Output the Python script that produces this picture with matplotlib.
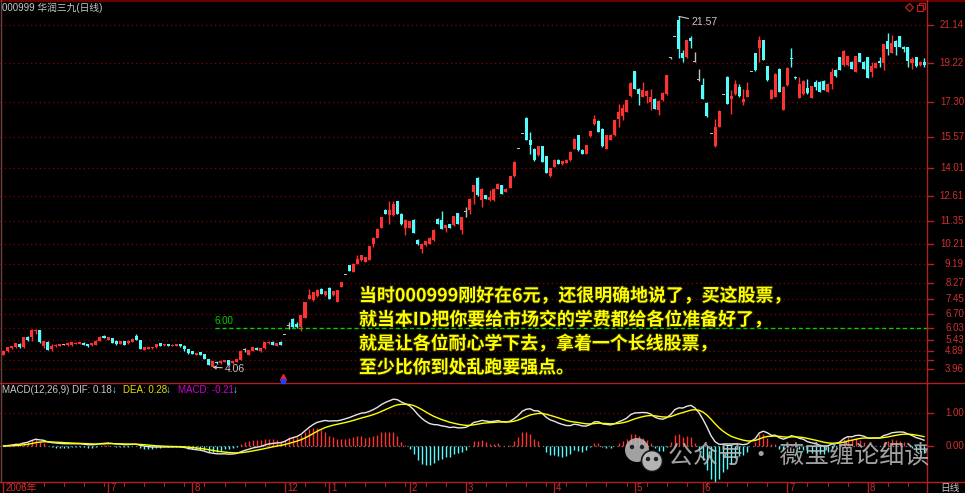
import numpy as np
import pandas as pd
import matplotlib
matplotlib.use("Agg")
import matplotlib.pyplot as plt
from matplotlib.patches import Circle
import matplotlib.patheffects as pe

plt.rcParams['font.family'] = ['Liberation Sans', 'Noto Sans CJK SC', 'DejaVu Sans']

# ==== 1) daily candles 000999 (read off the chart) ====
opens = [
    4.69, 4.86, 5.01, 5.06, 5.22, 5.06, 5.59, 5.56, 5.86, 5.92,
    5.14, 5.31, 4.97, 5.11, 5.14, 5.19, 5.16, 5.16, 5.22, 5.22,
    5.29, 5.22, 5.16, 5.19, 5.39, 5.64, 5.42, 5.52, 5.39, 5.22,
    5.36, 5.26, 5.32, 5.64, 5.42, 4.92, 4.97, 5.00, 5.06, 5.26,
    5.16, 5.22, 5.14, 5.14, 5.22, 5.14, 4.97, 4.86, 4.69, 4.80,
    4.72, 4.47, 4.09, 4.34, 4.26, 4.32, 4.42, 4.26, 4.34, 4.42,
    4.92, 4.69, 4.89, 5.04, 4.86, 5.01, 5.26, 5.34, 5.14, 5.34,
    5.69, 6.10, 6.47, 6.22, 6.06, 6.52, 7.47, 7.39, 7.59, 7.97,
    7.64, 8.02, 7.64, 7.31, 8.06, 8.64, 9.14, 8.81, 9.22, 9.39,
    9.31, 9.42, 10.19, 10.52, 11.02, 11.92, 11.64, 11.64, 12.36, 11.72,
    11.02, 11.02, 11.42, 10.42, 9.97, 10.14, 10.22, 10.39, 11.47, 11.39,
    11.02, 11.19, 11.14, 11.76, 10.89, 11.80, 11.89, 12.81, 13.52, 12.39,
    12.64, 12.39, 12.39, 12.97, 13.14, 12.81, 13.02, 13.59, 14.94, 15.69,
    16.52, 15.42, 14.97, 14.64, 15.09, 14.59, 13.59, 14.06, 14.42, 14.19,
    14.26, 14.39, 14.97, 15.64, 14.92, 14.72, 15.59, 16.19, 16.36, 15.97,
    14.97, 15.42, 15.64, 16.47, 16.60, 16.81, 17.59, 18.84, 17.97, 17.56,
    17.59, 17.31, 17.47, 16.89, 17.39, 17.69, 19.50, 20.52, 21.39, 19.76,
    19.52, 20.47, 19.30, 18.40, 18.14, 17.26, 15.72, 15.09, 16.06, 17.64,
    18.56, 17.46, 17.69, 18.06, 17.31, 17.56, 18.81, 19.72, 19.97, 20.39,
    19.09, 17.47, 17.56, 18.97, 16.92, 18.14, 19.50, 18.56, 17.52, 17.69,
    18.02, 17.52, 18.31, 18.31, 18.36, 17.81, 18.22, 18.92, 19.52, 19.14,
    19.14, 19.31, 18.81, 19.72, 19.31, 19.52, 18.81, 19.02, 19.36, 19.26,
    20.36, 19.76, 20.36, 20.59, 20.02, 20.02, 19.26, 19.52, 19.14, 19.31,
]
closes = [
    4.89, 5.06, 5.11, 5.26, 5.06, 5.56, 5.42, 5.92, 5.92, 5.31,
    5.36, 4.92, 5.14, 5.19, 5.22, 5.19, 5.29, 5.32, 5.29, 5.32,
    5.19, 5.11, 5.26, 5.39, 5.59, 5.52, 5.56, 5.29, 5.22, 5.36,
    5.19, 5.39, 5.47, 5.44, 4.99, 5.06, 5.06, 5.06, 5.22, 5.14,
    5.22, 5.14, 5.19, 5.22, 5.11, 4.97, 4.76, 4.72, 4.77, 4.69,
    4.47, 4.19, 4.36, 4.26, 4.39, 4.42, 4.19, 4.36, 4.47, 4.89,
    4.92, 4.92, 5.06, 4.94, 5.02, 5.31, 5.34, 5.17, 5.26, 5.17,
    5.69, 6.10, 6.06, 6.06, 6.64, 7.31, 7.64, 7.81, 7.89, 7.72,
    7.86, 7.47, 7.86, 7.89, 8.31, 8.64, 8.86, 9.22, 9.47, 9.64,
    9.56, 10.09, 10.52, 10.97, 11.56, 11.72, 11.89, 12.22, 11.72, 11.19,
    11.42, 11.36, 10.76, 10.19, 10.22, 10.36, 10.52, 10.92, 11.22, 10.97,
    11.14, 11.02, 11.59, 11.22, 11.56, 11.80, 12.47, 13.14, 12.64, 12.97,
    12.47, 12.56, 12.97, 13.22, 12.72, 12.97, 13.59, 14.31, 14.94, 15.69,
    15.42, 15.14, 14.39, 15.09, 14.31, 13.76, 14.00, 14.42, 14.22, 14.34,
    14.42, 14.81, 15.47, 14.89, 14.72, 15.15, 15.84, 16.47, 15.81, 15.09,
    15.64, 15.67, 16.39, 16.81, 17.00, 17.39, 18.26, 17.97, 17.69, 17.89,
    17.86, 17.56, 16.97, 17.36, 17.76, 18.64, 19.50, 20.52, 19.92, 19.47,
    20.39, 20.36, 19.30, 18.40, 17.47, 16.59, 15.72, 16.06, 16.86, 17.64,
    17.22, 17.59, 18.19, 17.59, 17.47, 17.92, 18.81, 18.89, 20.39, 19.39,
    18.39, 17.89, 18.72, 17.81, 18.06, 19.02, 19.45, 18.49, 18.19, 18.36,
    17.76, 18.09, 18.06, 17.81, 17.92, 18.22, 18.81, 18.59, 18.92, 19.86,
    19.59, 18.97, 19.59, 19.31, 18.97, 18.52, 19.09, 19.26, 19.22, 20.19,
    19.92, 20.26, 20.02, 20.06, 19.92, 19.36, 19.42, 19.09, 19.31, 19.14,
]
highs = [
    4.92, 5.09, 5.14, 5.29, 5.26, 5.58, 5.63, 5.95, 5.99, 5.94,
    5.39, 5.36, 5.22, 5.21, 5.24, 5.23, 5.31, 5.34, 5.31, 5.34,
    5.31, 5.24, 5.28, 5.41, 5.64, 5.67, 5.59, 5.54, 5.41, 5.38,
    5.38, 5.41, 5.50, 5.72, 5.44, 5.08, 5.08, 5.08, 5.24, 5.28,
    5.24, 5.24, 5.21, 5.24, 5.24, 5.16, 4.99, 4.88, 4.79, 4.82,
    4.74, 4.49, 4.38, 4.36, 4.41, 4.44, 4.44, 4.38, 4.49, 4.91,
    5.02, 4.94, 5.08, 5.06, 5.04, 5.33, 5.36, 5.36, 5.28, 5.36,
    5.69, 6.31, 6.52, 6.31, 6.66, 7.33, 7.97, 7.83, 7.97, 7.99,
    7.88, 8.04, 7.88, 7.91, 8.33, 8.64, 9.16, 9.24, 9.64, 9.66,
    9.58, 10.11, 10.54, 10.99, 11.58, 11.94, 12.36, 12.36, 12.38, 11.74,
    11.44, 11.38, 11.44, 10.44, 10.24, 10.38, 10.54, 10.94, 11.49, 11.86,
    11.16, 11.21, 11.61, 11.78, 11.58, 12.06, 12.49, 13.16, 13.54, 12.99,
    12.66, 12.89, 12.99, 13.24, 13.16, 12.99, 13.61, 14.33, 14.94, 15.69,
    16.54, 15.81, 14.99, 15.11, 15.11, 14.61, 14.02, 14.44, 14.44, 14.36,
    14.44, 14.83, 15.49, 15.66, 14.94, 15.17, 15.86, 16.64, 16.38, 15.99,
    15.66, 15.69, 16.41, 17.19, 17.20, 17.41, 18.28, 18.86, 17.99, 18.31,
    17.88, 17.97, 17.49, 17.38, 17.78, 18.66, 19.56, 20.52, 21.57, 19.89,
    20.41, 20.59, 19.80, 18.97, 18.52, 17.28, 15.72, 16.47, 16.88, 17.64,
    18.58, 17.89, 18.42, 18.19, 17.97, 18.31, 18.81, 19.74, 20.59, 20.41,
    19.11, 17.97, 18.74, 18.99, 18.08, 19.04, 19.97, 18.58, 18.56, 18.38,
    18.47, 18.11, 18.39, 18.33, 18.38, 18.24, 19.02, 18.94, 19.54, 19.88,
    19.61, 19.33, 19.61, 19.74, 19.33, 19.54, 19.31, 19.28, 19.52, 20.21,
    20.76, 20.64, 20.38, 20.61, 20.09, 20.04, 19.52, 19.54, 19.33, 19.47,
]
lows = [
    4.66, 4.83, 4.98, 5.03, 5.03, 5.04, 5.38, 5.36, 5.72, 5.29,
    5.02, 4.90, 4.89, 5.08, 5.12, 5.16, 5.14, 5.14, 5.20, 5.20,
    5.17, 5.09, 5.14, 5.17, 5.37, 5.50, 5.40, 5.27, 5.19, 5.20,
    5.17, 5.24, 5.30, 5.42, 4.97, 4.90, 4.95, 4.98, 5.04, 5.12,
    5.14, 5.12, 5.12, 5.12, 5.09, 4.89, 4.74, 4.70, 4.67, 4.67,
    4.45, 4.17, 4.06, 4.24, 4.24, 4.30, 4.17, 4.24, 4.32, 4.40,
    4.80, 4.67, 4.87, 4.92, 4.84, 4.99, 5.24, 5.15, 5.12, 5.15,
    5.69, 5.97, 6.04, 6.04, 5.89, 6.50, 7.45, 7.37, 7.57, 7.70,
    7.62, 7.45, 7.62, 7.29, 8.04, 8.64, 8.84, 8.79, 9.20, 9.37,
    9.29, 9.40, 10.06, 10.50, 11.00, 11.70, 11.22, 11.62, 11.70, 11.17,
    10.64, 11.00, 10.74, 10.17, 9.76, 10.12, 10.20, 10.37, 11.20, 10.95,
    10.81, 11.00, 11.12, 11.20, 10.72, 11.56, 11.72, 12.22, 12.62, 12.06,
    12.45, 12.37, 12.37, 12.95, 12.70, 12.79, 13.00, 13.57, 14.94, 15.69,
    15.40, 14.72, 14.37, 14.62, 14.29, 13.74, 13.57, 14.04, 14.20, 14.17,
    14.24, 14.37, 14.95, 14.87, 14.70, 14.70, 15.57, 16.17, 15.79, 15.07,
    14.95, 15.40, 15.62, 16.06, 16.40, 16.79, 17.57, 17.95, 17.14, 17.54,
    17.26, 16.92, 16.95, 16.64, 17.37, 17.67, 19.42, 20.52, 19.47, 19.31,
    19.50, 19.97, 19.30, 18.36, 17.45, 16.57, 15.72, 15.07, 16.04, 17.64,
    17.20, 16.69, 17.67, 17.57, 17.14, 17.54, 18.81, 18.87, 19.31, 19.37,
    18.37, 17.45, 17.54, 17.79, 16.90, 18.12, 19.06, 18.47, 17.50, 17.67,
    17.69, 17.50, 17.89, 17.79, 17.90, 17.79, 17.97, 18.57, 18.90, 19.12,
    19.12, 18.95, 18.79, 19.29, 18.95, 18.50, 18.56, 19.00, 19.06, 18.89,
    19.64, 19.74, 19.64, 20.04, 19.81, 19.06, 18.97, 19.07, 19.12, 19.06,
]

price_ticks = [21.14, 19.22, 17.30, 15.57, 14.01, 12.61, 11.35, 10.21, 9.19,
               8.27, 7.45, 6.70, 6.03, 5.43, 4.89, 4.40, 3.96]
price_labels = ['21.14', '19.22', '17.30', '15.57', '14.01', '12.61', '11.35', '10.21', '9.19',
                '8.27', '7.45', '6.70', '6.03', '5.43', '4.89', '', '3.96']

month_idx = [0, 26, 47, 70, 81, 101, 115, 137, 157, 174, 195, 215]
month_labels = ['2006年', '7', '8', '12', '1', '2', '3', '4', '5', '6', '7', '8']

hi_i, hi_v = 168, 21.57
lo_i, lo_v = 52, 4.06
level_600 = 6.00

notes = ['当时000999刚好在6元，还很明确地说了，买这股票，',
         '就当本ID把你要给市场交的学费都给各位准备好了，',
         '就是让各位耐心学下去，拿着一个长线股票，',
         '至少比你到处乱跑要强点。']

# ==== 2) MACD(12,26,9) ====
cs = pd.Series(closes)
dif = cs.ewm(span=12, adjust=False).mean() - cs.ewm(span=26, adjust=False).mean()
dea = dif.ewm(span=9, adjust=False).mean()
macd = 2 * (dif - dea)

RED = '#FF3232'
CYAN = '#54FCFC'
GRAY = '#C0C0C0'
AXRED = '#B02020'
GRID = '#8C0000'

o = np.array(opens); c = np.array(closes); h = np.array(highs); l = np.array(lows)
x = np.arange(len(o))
col = np.where(c > o, RED, np.where(c < o, CYAN, GRAY))

W, H = 965, 493
fig = plt.figure(figsize=(W / 100, H / 100), dpi=100, facecolor='black')

def box(x0, y0, x1, y1):
    a = fig.add_axes([x0 / W, 1 - y1 / H, (x1 - x0) / W, (y1 - y0) / H])
    a.set_facecolor('black')
    for s in a.spines.values():
        s.set_visible(False)
    a.set_xticks([]); a.set_yticks([])
    return a

XL = (-0.87, 229.73)

# ==== 3) price panel ====
ax = box(0, 2, 927, 383)
ax.set_xlim(*XL)
ax.set_ylim(3.27, 22.29)
for v in price_ticks:
    ax.axhline(v, color=GRID, lw=0.9, ls=(0, (1, 2.5)), zorder=1)
body_bot = np.minimum(o, c)
body_h = np.maximum(np.abs(c - o), 0.05)
ax.vlines(x, l, h, colors=col, lw=1, zorder=2)
ax.bar(x, body_h, bottom=body_bot, width=0.75, color=col, linewidth=0, zorder=3)

ax.plot([52.6, XL[1]], [level_600, level_600], color='#00D000', lw=1, ls=(0, (3, 2)), zorder=4)
ax.text(52.6, level_600 + 0.1, '6.00', color='#00D000', fontsize=7, va='bottom', ha='left')

ax.annotate(f'{hi_v:.2f}', xy=(hi_i, hi_v), xytext=(9, -4), textcoords='offset points',
            color='#C8C8C8', fontsize=7.5, va='center',
            arrowprops=dict(arrowstyle='-', color='#C8C8C8', lw=0.8, shrinkA=0, shrinkB=0))
ax.annotate(f'{lo_v:.2f}', xy=(lo_i, lo_v), xytext=(9, -1), textcoords='offset points',
            color='#C8C8C8', fontsize=7.5, va='center',
            arrowprops=dict(arrowstyle='->', color='#C8C8C8', lw=0.8, shrinkA=0, shrinkB=0,
                            mutation_scale=5))

ytr = ax.get_yaxis_transform()
for v, lab in zip(price_ticks, price_labels):
    ax.plot([1.0, 1.0065], [v, v], transform=ytr, clip_on=False, color=AXRED, lw=1)
    if lab:
        ax.text(1.0399, v, lab, transform=ytr, ha='right', va='center',
                color='#D03030', fontsize=7, clip_on=False)

# ==== 4) MACD panel ====
am = box(0, 383, 927, 482)
am.set_xlim(*XL)
am.set_ylim(-1.09, 1.91)
am.axhline(1.0, color=GRID, lw=0.9, ls=(0, (1, 2.5)))
am.axhline(0.0, color='#808080', lw=0.9, ls=(0, (1, 2.5)))
hcol = np.where(macd.values >= 0, RED, CYAN)
am.vlines(x, 0, macd.values, colors=hcol, lw=1)
am.plot(x, dif.values, color='#E6E6E6', lw=1)
am.plot(x, dea.values, color='#FFFF00', lw=1)
mtr = am.get_yaxis_transform()
for v, lab in [(1.0, '1.00'), (0.0, '0.00')]:
    am.plot([1.0, 1.0065], [v, v], transform=mtr, clip_on=False, color=AXRED, lw=1)
    am.text(1.0399, v, lab, transform=mtr, ha='right', va='center',
            color='#D03030', fontsize=7, clip_on=False)

# ==== 5) date row ====
ad = box(0, 482, 927, 493)
ad.set_xlim(*XL)
ad.set_ylim(0, 1)
for k in range(0, len(o), 5):
    ad.plot([k, k], [1, 0.65], color=AXRED, lw=0.8)
for m, lab in zip(month_idx, month_labels):
    ad.plot([m, m], [1, 0], color=AXRED, lw=1)
    ad.text(m + 0.5, 0.45, lab, color='#D03030', fontsize=7, va='center', ha='left')

# ==== 6) overlay: frame, headers, notes ====
ov = fig.add_axes([0, 0, 1, 1])
ov.set_xlim(0, W); ov.set_ylim(H, 0); ov.axis('off'); ov.patch.set_alpha(0)
ov.plot([0, W], [0.5, 0.5], color='#800000', lw=1.2)
ov.plot([0, W], [383, 383], color=AXRED, lw=1)
ov.plot([0, W], [482, 482], color=AXRED, lw=1)
ov.plot([927, 927], [0, H], color=AXRED, lw=1)
ov.plot([0.5, 0.5], [0, 482], color='#704040', lw=1)

ov.text(2, 7.5, '000999 华润三九(日线)', color='#C8C8C8', fontsize=7, va='center')
ov.plot(909, 7, marker='D', ms=4.5, mfc='none', mec='#C02020', mew=0.9)
ov.plot(922, 6, marker='s', ms=4, mfc='none', mec='#C02020', mew=0.9)
ov.plot(920, 8, marker='s', ms=4, mfc='black', mec='#C02020', mew=0.9)

ov.text(2, 390, 'MACD(12,26,9) DIF: 0.18', color='#C8C8C8', fontsize=7, va='center')
ov.text(112, 390, '↓', color=CYAN, fontsize=7, va='center')
ov.text(123, 390, 'DEA: 0.28', color='#E0E000', fontsize=7, va='center')
ov.text(166, 390, '↓', color=CYAN, fontsize=7, va='center')
ov.text(178, 390, 'MACD: -0.21', color='#D000D0', fontsize=7, va='center')
ov.text(233, 390, '↓', color=CYAN, fontsize=7, va='center')
ov.text(940, 488, '日线', color='#C8C8C8', fontsize=7, va='center')

ov.plot(283, 377, marker='^', color='#FF2020', ms=4)
ov.plot(283, 380.5, marker='s', color='#2040FF', ms=2.2)

for k, line in enumerate(notes):
    ov.text(359, 296 + 24 * k, line, color='#FFFF00', fontsize=12.9, fontweight='bold',
            family=['Noto Sans CJK SC', 'DejaVu Sans'], va='center', ha='left',
            path_effects=[pe.withStroke(linewidth=1.5, foreground='#202000')])

# watermark
ov.add_patch(Circle((637, 450), 12, color='#BEBEBE', alpha=0.85, lw=0))
ov.add_patch(Circle((652, 461), 10.5, facecolor='#BEBEBE', edgecolor='#101010', lw=1.2, alpha=0.95))
for ex, ey in [(632, 447), (642, 447), (648, 459), (656, 459)]:
    ov.add_patch(Circle((ex, ey), 1.5, color='#202020'))
ov.text(668, 455, '公众号 · 薇宝缠论细读', color='#BEBEBE', alpha=0.85, fontsize=18,
        family=['Noto Sans CJK SC', 'DejaVu Sans'], va='center', ha='left')

fig.savefig('out.png', dpi=100, facecolor='black')
